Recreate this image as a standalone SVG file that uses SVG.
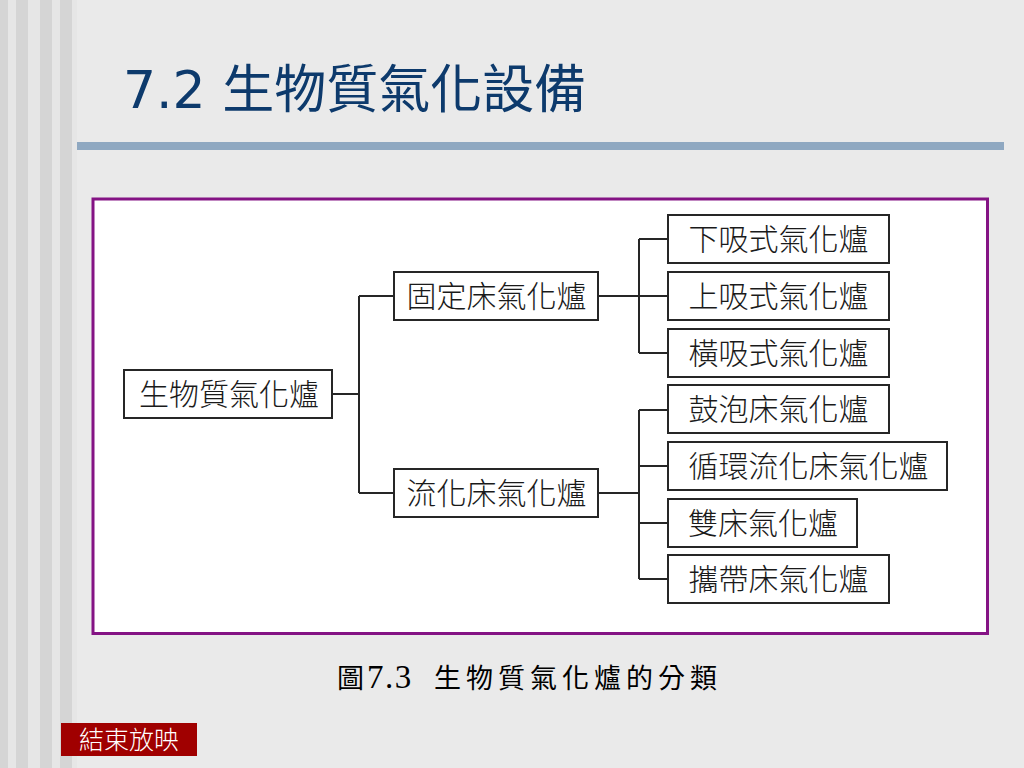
<svg xmlns="http://www.w3.org/2000/svg" width="1024" height="768" viewBox="0 0 1024 768">
<style>
.box{fill:#ffffff;stroke:#262626;stroke-width:2}
.lbl{font-family:"Noto Sans CJK TC","Noto Sans CJK SC",sans-serif;font-size:30px;font-weight:300;fill:#1a1a1a;text-anchor:middle}
.conn{fill:none;stroke:#262626;stroke-width:2}
.stripeD{fill:#d5d5d5}
.stripeL{fill:#e6e6e6}
</style>
<rect width="1024" height="768" fill="#eaeaea"/>
<g id="stripes">
<rect class="stripeD" x="0" y="0" width="8" height="768"/>
<rect class="stripeL" x="8" y="0" width="8" height="768"/>
<rect class="stripeD" x="16" y="0" width="12" height="768"/>
<rect class="stripeL" x="28" y="0" width="12" height="768"/>
<rect class="stripeD" x="40" y="0" width="12" height="768"/>
<rect class="stripeL" x="52" y="0" width="8" height="768"/>
<rect class="stripeD" x="60" y="0" width="12" height="768"/>
<rect class="stripeL" x="72" y="0" width="5" height="768"/>
</g>
<text id="title" x="123" y="108" font-family="DejaVu Sans,'Noto Sans CJK TC',sans-serif" font-size="52" fill="#0d3a6c">7.2 生物質氣化設備</text>
<rect x="77" y="142" width="927" height="8" fill="#8fa8c1"/>
<rect id="frame" x="93" y="199" width="894.5" height="434.5" fill="#ffffff" stroke="#841384" stroke-width="3"/>
<g id="connectors">
<path class="conn" d="M332,394 H359 M359,296 V493 M359,296 H394 M359,493 H394"/>
<path class="conn" d="M598,296 H639 M639,239 V353 M639,239 H668 M639,296 H668 M639,353 H668"/>
<path class="conn" d="M598,493 H639 M639,410 V579 M639,410 H668 M639,466 H668 M639,523 H668 M639,579 H668"/>
</g>
<g id="root"><rect class="box" x="124" y="370" width="208" height="48"/><text class="lbl" x="229" y="405">生物質氣化爐</text></g>
<g id="fixed"><rect class="box" x="394" y="272" width="204" height="48"/><text class="lbl" x="496.5" y="307">固定床氣化爐</text></g>
<g id="fluid"><rect class="box" x="394" y="469" width="204" height="48"/><text class="lbl" x="496.5" y="504">流化床氣化爐</text></g>
<g id="down"><rect class="box" x="668" y="215" width="221" height="48"/><text class="lbl" x="778.5" y="250">下吸式氣化爐</text></g>
<g id="up"><rect class="box" x="668" y="272" width="221" height="48"/><text class="lbl" x="778.5" y="307">上吸式氣化爐</text></g>
<g id="cross"><rect class="box" x="668" y="329" width="221" height="48"/><text class="lbl" x="778.5" y="364">橫吸式氣化爐</text></g>
<g id="bubble"><rect class="box" x="668" y="385" width="221" height="48"/><text class="lbl" x="778.5" y="420">鼓泡床氣化爐</text></g>
<g id="circ"><rect class="box" x="668" y="442" width="279" height="48"/><text class="lbl" x="808.5" y="477">循環流化床氣化爐</text></g>
<g id="dual"><rect class="box" x="668" y="499" width="189" height="48"/><text class="lbl" x="763" y="534">雙床氣化爐</text></g>
<g id="entrain"><rect class="box" x="668" y="555" width="221" height="48"/><text class="lbl" x="778.5" y="590">攜帶床氣化爐</text></g>
<text id="caption" y="688" font-family="'Liberation Serif','Noto Sans CJK TC',serif" font-size="27" font-weight="400" fill="#000000"><tspan x="337">圖</tspan><tspan x="367" font-size="33" letter-spacing="1.5">7.3</tspan><tspan x="434" letter-spacing="5">生物質氣化爐的分類</tspan></text>
<g id="endshow">
<rect x="61" y="723" width="136" height="33" fill="#a00000"/>
<text x="129" y="749" font-family="'Noto Sans CJK TC',sans-serif" font-size="25" font-weight="300" fill="#ffffff" text-anchor="middle">結束放映</text>
</g>
</svg>
